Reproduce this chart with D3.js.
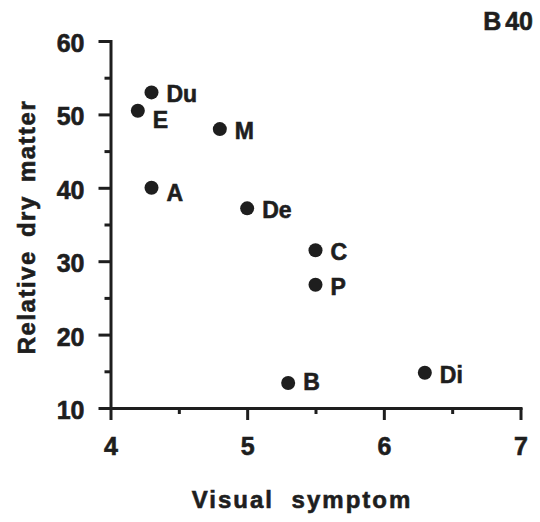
<!DOCTYPE html>
<html>
<head>
<meta charset="utf-8">
<script src="https://cdn.jsdelivr.net/npm/d3@7"></script>
<style>
  body { margin: 0; background: #fff; }
  svg text { font-family: "Liberation Sans", Arial, sans-serif; font-weight: bold; fill: #1e1e1e; stroke: #1e1e1e; stroke-width: 0.6px; }
  .axis path, .axis line { stroke: #1e1e1e; stroke-width: 3; }
</style>
</head>
<body>
<svg class="chart"></svg>
<script>
// values
var names   = ["Du", "E", "M", "A", "De", "C", "P", "B", "Di"];
var symptom = [4.3, 4.2, 4.8, 4.3, 5.0, 5.5, 5.5, 5.3, 6.3];
var dryMatter = [53, 50.5, 48, 40, 37.2, 31.5, 26.8, 13.4, 14.8];
var xTicks = [4, 5, 6, 7];
var xMinor = [4.5, 5.5, 6.5];
var yTicks = [10, 20, 30, 40, 50, 60];
var yMinor = [15, 25, 35, 45, 55];

var width = 540, height = 522;

var svg = d3.select(".chart")
    .attr("width", width)
    .attr("height", height);

var x = d3.scaleLinear().domain([4, 7]).range([110.5, 520.5]);
var y = d3.scaleLinear().domain([10, 60]).range([408, 41]);

var data = names.map(function(n, i) {
    return {name: n, x: symptom[i], y: dryMatter[i]};
});

// label nudges (px) where a label sits lower than the rest
var labelDy = {E: 17, A: 13, B: 7};

// minor ticks first
svg.append("g")
    .attr("class", "axis")
    .attr("transform", "translate(" + x(4) + ",0)")
    .call(d3.axisLeft(y).tickValues(yMinor).tickSize(6).tickFormat(""))
    .select(".domain").remove();
svg.append("g")
    .attr("class", "axis")
    .attr("transform", "translate(0," + y(10) + ")")
    .call(d3.axisBottom(x).tickValues(xMinor).tickSize(6).tickFormat(""))
    .select(".domain").remove();

var yAxis = svg.append("g")
    .attr("class", "axis")
    .attr("transform", "translate(" + x(4) + ",0)")
    .call(d3.axisLeft(y).tickValues(yTicks).tickSize(12).tickSizeOuter(0).tickPadding(14));
yAxis.selectAll("text")
    .style("font-size", "25px")
    .attr("dy", "0.42em");

var xAxis = svg.append("g")
    .attr("class", "axis")
    .attr("transform", "translate(0," + y(10) + ")")
    .call(d3.axisBottom(x).tickValues(xTicks).tickSize(12).tickSizeOuter(0).tickPadding(17)
        .tickFormat(d3.format("d")));
xAxis.selectAll("text")
    .style("font-size", "25px");

svg.selectAll(".domain").attr("stroke-linecap", "square");

svg.selectAll("circle")
    .data(data)
    .enter()
    .append("circle")
    .attr("cx", function(d) { return x(d.x); })
    .attr("cy", function(d) { return y(d.y); })
    .attr("r", 7)
    .attr("fill", "#1e1e1e");

svg.selectAll("text.lbl")
    .data(data)
    .enter()
    .append("text")
    .attr("class", "lbl")
    .attr("x", function(d) { return x(d.x) + 15; })
    .attr("y", function(d) { return y(d.y) + (labelDy[d.name] || 10); })
    .style("font-size", "23px")
    .text(function(d) { return d.name; });

svg.append("text")
    .attr("transform", "translate(35,227) rotate(-90)")
    .attr("text-anchor", "middle")
    .style("font-size", "24px")
    .style("letter-spacing", "1.5px")
    .style("word-spacing", "5px")
    .text("Relative dry matter");

svg.append("text")
    .attr("x", 302)
    .attr("y", 508)
    .attr("text-anchor", "middle")
    .style("font-size", "24px")
    .style("letter-spacing", "2px")
    .style("word-spacing", "9px")
    .text("Visual symptom");

svg.append("text")
    .attr("x", 533)
    .attr("y", 30)
    .attr("text-anchor", "end")
    .style("font-size", "25px")
    .style("word-spacing", "-3px")
    .text("B 40");
</script>
</body>
</html>
